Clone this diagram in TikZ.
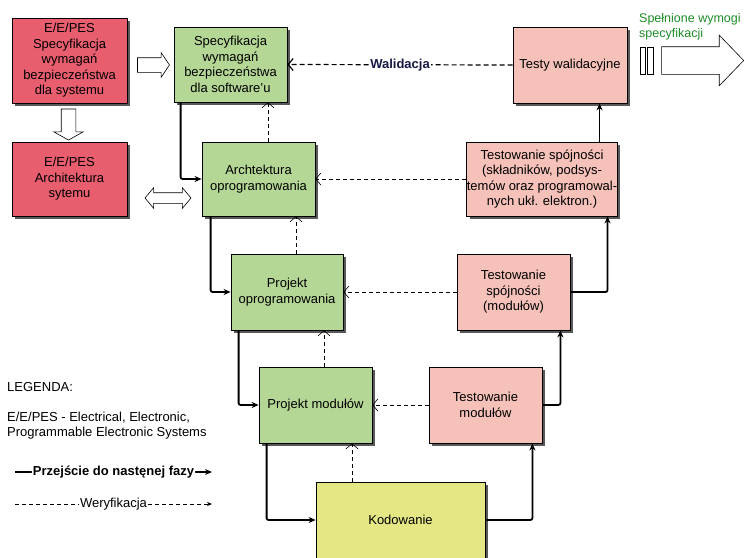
\documentclass[tikz,border=0pt]{standalone}
\usepackage{fontspec}
\setmainfont{Liberation Sans}
\usepackage{tikz}
\usetikzlibrary{positioning,shadows,shapes.arrows,arrows.meta}

\definecolor{sysred}{RGB}{232,94,110}
\definecolor{swgreen}{RGB}{181,215,150}
\definecolor{testpink}{RGB}{245,193,185}
\definecolor{codeyellow}{RGB}{229,231,132}
\definecolor{okgreen}{RGB}{30,140,40}
\definecolor{validnavy}{RGB}{25,25,70}

\begin{document}
\begin{tikzpicture}[x=1pt, y=-1pt, font=\fontsize{13}{15.5}\selectfont,
    phase/.style={-{Stealth[length=7pt,width=6pt]}, line width=1.8pt, rounded corners=2pt},
    verif/.style={-{Straight Barb[length=5pt,width=12pt]}, line width=0.6pt, dash pattern=on 4pt off 3pt},
    valid/.style={-{Straight Barb[length=5pt,width=12pt]}, line width=1.2pt, dash pattern=on 5pt off 3pt},
    box/.style={rectangle, draw=black, line width=0.8pt, align=center, inner sep=0pt,
      general shadow={fill=black!65, shadow xshift=3pt, shadow yshift=-3pt}},
    sys node/.style={box, fill=sysred},
    sw node/.style={box, fill=swgreen},
    test node/.style={box, fill=testpink},
    hollow/.style={draw=black, fill=white, line width=0.6pt}]

  \path[use as bounding box, fill=white] (0,0) rectangle (744,557);

  % System level (left)
  \node[sys node, minimum width=115pt, minimum height=85pt] (sysspec) at (69.5,60.5)
    {E/E/PES\\Specyfikacja\\wymagań\\bezpieczeństwa\\dla systemu};
  \node[sys node, minimum width=115pt, minimum height=74pt] (sysarch) at (69.5,179)
    {E/E/PES\\Architektura\\sytemu};

  % Left branch of the V
  \node[sw node, minimum width=113pt, minimum height=75pt] (swspec) at (230.5,64.5)
    {Specyfikacja\\wymagań\\bezpieczeństwa\\dla software'u};
  \node[sw node, minimum width=113pt, minimum height=74pt] (swarch) at (258.5,179)
    {Archtektura\\oprogramowania};
  \node[sw node, minimum width=112pt, minimum height=76pt] (swdesign) at (287,292)
    {Projekt\\oprogramowania};
  \node[sw node, minimum width=113pt, minimum height=76pt] (moddesign) at (315.5,405)
    {Projekt modułów};

  % Bottom
  \node[box, fill=codeyellow, minimum width=169pt, minimum height=76pt] (coding) at (400.5,520)
    {Kodowanie};

  % Right branch of the V
  \node[test node, minimum width=113pt, minimum height=76pt] (modtest) at (485.5,405)
    {Testowanie\\modułów};
  \node[test node, minimum width=113pt, minimum height=76pt] (modint) at (513.5,292)
    {Testowanie\\spójności\\(modułów)};
  \node[test node, minimum width=150pt, minimum height=74pt] (inttest) at (542,179)
    {Testowanie spójności\\(składników, podsys-\\temów oraz programowal-\\nych ukł. elektron.)};
  \node[test node, minimum width=114pt, minimum height=76pt] (valtest) at (570,65)
    {Testy walidacyjne};

  % Block arrows
  \node[hollow, single arrow, inner sep=7pt, minimum height=32pt,
    single arrow head extend=5pt, single arrow tip angle=112] (specarrow) at (151,65) {};
  \node[hollow, single arrow, shape border rotate=270, inner sep=7pt, minimum height=31pt,
    single arrow head extend=7.5pt, single arrow tip angle=122] (archarrow) at (68.5,122.5) {};
  \node[hollow, double arrow, inner sep=5pt, minimum height=46pt,
    double arrow head extend=5pt, double arrow tip angle=100] (linkarrow) at (168,198) {};
  \node[hollow, rectangle, inner sep=0pt, minimum width=5pt, minimum height=27pt] (stripeA) at (642.5,60.5) {};
  \node[hollow, rectangle, inner sep=0pt, minimum width=6pt, minimum height=27pt] (stripeB) at (650,60.5) {};
  \node[hollow, single arrow, inner sep=13.5pt, minimum height=82pt,
    single arrow head extend=11.5pt, single arrow tip angle=92] (donearrow) at (696,60.5) {};
  \node[anchor=north west, align=left, inner sep=0pt, text=okgreen,
    font=\fontsize{12.5}{15}\selectfont] (donetext) at (639,13)
    {Spełnione wymogi\\specyfikacji};

  % Next phase (solid)
  \draw[phase] ([xshift=7pt]swspec.south west) |- (swarch.west);
  \draw[phase] ([xshift=9pt]swarch.south west) |- (swdesign.west);
  \draw[phase] ([xshift=8pt]swdesign.south west) |- (moddesign.west);
  \draw[phase] ([xshift=8pt]moddesign.south west) |- (coding.west);
  \draw[phase] (coding.east) -| ([xshift=-10pt]modtest.south east);
  \draw[phase] (modtest.east) -| ([xshift=-10pt]modint.south east);
  \draw[phase] (modint.east) -| ([xshift=-10pt]inttest.south east);
  \draw[phase] ([xshift=-18pt]inttest.north east) -- ([xshift=-18pt]inttest.north east |- valtest.south);

  % Verification (dashed)
  \draw[verif] (modtest.west) -- (moddesign.east);
  \draw[verif] (modint.west) -- (swdesign.east);
  \draw[verif] (inttest.west) -- (swarch.east);
  \draw[verif] ([xshift=36.5pt]moddesign.south |- coding.north) -- ([xshift=36.5pt]moddesign.south);
  \draw[verif] ([xshift=8.5pt]moddesign.north) -- ([xshift=8.5pt]moddesign.north |- swdesign.south);
  \draw[verif] ([xshift=9pt]swdesign.north) -- ([xshift=9pt]swdesign.north |- swarch.south);
  \draw[verif] ([xshift=9.5pt]swarch.north) -- ([xshift=9.5pt]swarch.north |- swspec.south);

  % Validation
  \draw[valid] (valtest.west) -- node[fill=white, inner sep=1pt, text=validnavy, font=\fontsize{13}{15.5}\selectfont\bfseries] {Walidacja} (swspec.east);

  % Legend
  \node[anchor=west, inner sep=0pt] (legtitle) at (7,387) {LEGENDA:};
  \node[anchor=west, align=left, inner sep=0pt] (legabbr) at (7,425.5)
    {E/E/PES - Electrical, Electronic,\\Programmable Electronic Systems};
  \coordinate (lp1) at (15,472);
  \coordinate (lp2) at (212,472);
  \coordinate (lv1) at (15,504);
  \coordinate (lv2) at (212,504);
  \draw[phase, line width=1.5pt] (lp1) -- node[fill=white, inner sep=1pt, font=\fontsize{13}{15.5}\selectfont\bfseries] {Przejście do nastęnej fazy} (lp2);
  \draw[line width=0.6pt, dash pattern=on 4pt off 3pt, -{Stealth[length=5pt,width=4pt]}] (lv1) -- node[fill=white, inner sep=1pt] {Weryfikacja} (lv2);
\end{tikzpicture}
\end{document}
